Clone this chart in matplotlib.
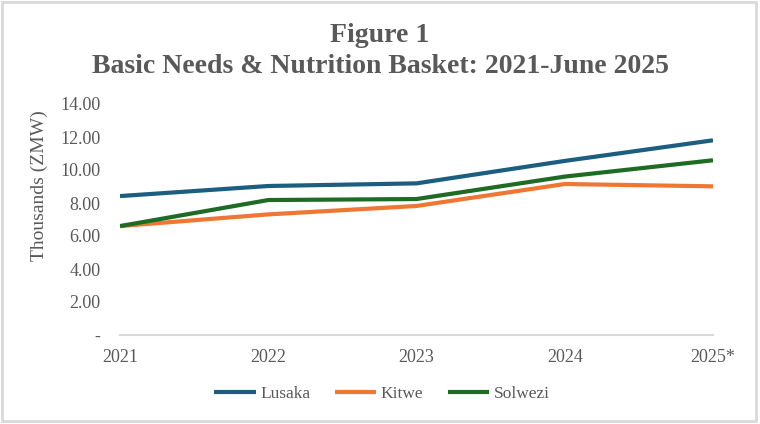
import matplotlib.pyplot as plt
from matplotlib.patches import Rectangle
from matplotlib.ticker import FuncFormatter

years = ["2021", "2022", "2023", "2024", "2025*"]
lusaka = [8.42, 9.03, 9.19, 10.55, 11.80]
kitwe = [6.60, 7.31, 7.82, 9.15, 9.01]
solwezi = [6.60, 8.18, 8.24, 9.60, 10.59]

series = [("Lusaka", lusaka, "#1B5E80"),
          ("Kitwe", kitwe, "#ED7733"),
          ("Solwezi", solwezi, "#1E6B24")]

plt.rcParams["font.family"] = ["Liberation Serif", "DejaVu Serif"]
grey = "#595959"

fig = plt.figure(figsize=(7.6, 4.24), dpi=100)
ax = fig.add_axes([120 / 760, 1 - 335 / 424, (713 - 120) / 760, (335 - 104) / 424])

x = range(len(years))
for name, vals, col in series:
    ax.plot(x, vals, color=col, linewidth=3.0, label=name, solid_capstyle="butt")

ax.set_xlim(0, len(years) - 1)
ax.set_ylim(0, 14)
ax.set_yticks(range(0, 15, 2))
ax.yaxis.set_major_formatter(FuncFormatter(lambda v, p: "-" if v == 0 else f"{v:.2f}"))
ax.set_xticks(list(x))
ax.set_xticklabels(years)
ax.tick_params(axis="both", length=0, labelsize=13, colors=grey)
ax.tick_params(axis="x", pad=10)
ax.tick_params(axis="y", pad=14)

for s in ["top", "right", "left"]:
    ax.spines[s].set_visible(False)
ax.spines["bottom"].set_color("#D9D9D9")
ax.spines["bottom"].set_linewidth(1.5)

ax.set_ylabel("Thousands (ZMW)", fontsize=14, color=grey)
ax.yaxis.set_label_coords(-(120 - 48) / 593, (335 - 186) / 231)

fig.text(0.5, 1 - 42 / 424, "Figure 1", ha="center", va="baseline",
         fontsize=20, fontweight="bold", color=grey)
fig.text(0.5, 1 - 73 / 424, "Basic Needs & Nutrition Basket: 2021-June 2025", ha="center",
         va="baseline", fontsize=20, fontweight="bold", color=grey)

fig.legend(loc="center", bbox_to_anchor=(382 / 760, 1 - 394 / 424), ncol=3, frameon=False,
           fontsize=12.5, handlelength=2.4, columnspacing=1.4, handletextpad=0.25,
           labelcolor=grey)

fig.patches.append(Rectangle((1.5 / 760, 3 / 424), 754 / 760, 419 / 424, transform=fig.transFigure,
                             fill=False, edgecolor="#D9D9D9", linewidth=2))

fig.savefig("out.png", dpi=100, facecolor="white")
